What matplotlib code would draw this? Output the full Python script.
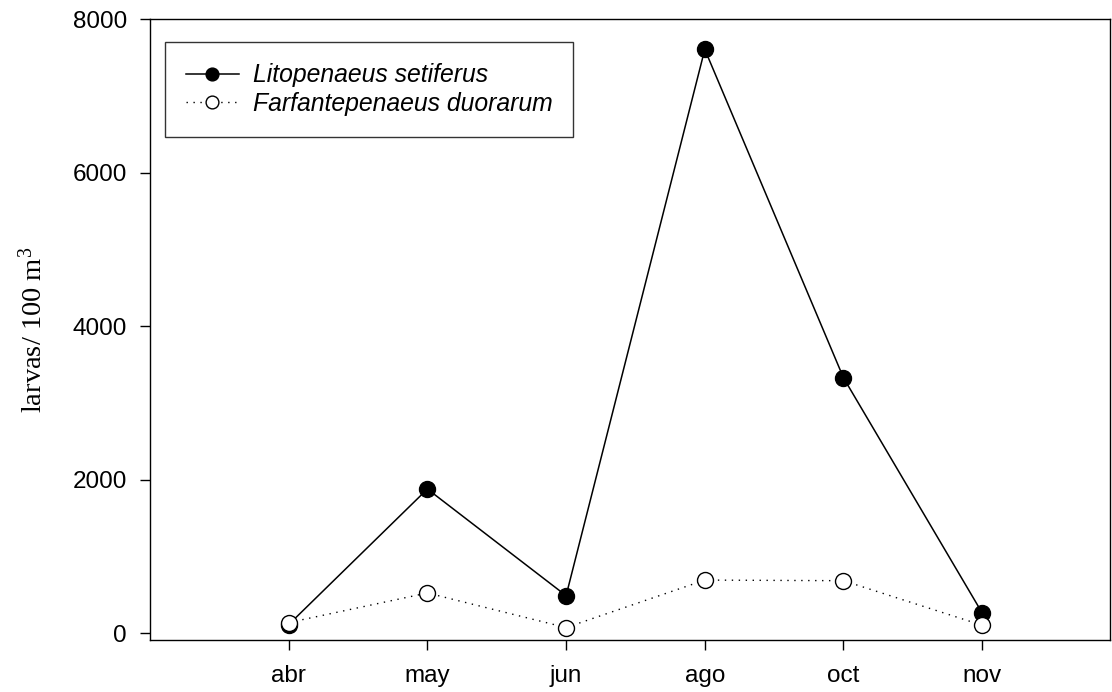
import matplotlib
matplotlib.use("Agg")
import matplotlib.pyplot as plt

# sampling months and larval densities (larvas / 100 m3)
months = ["abr", "may", "jun", "ago", "oct", "nov"]
setiferus = [110, 1877, 487, 7608, 3327, 262]
duorarum = [136, 522, 71, 690, 682, 101]

plt.rcParams["font.family"] = ["Liberation Sans", "DejaVu Sans"]
plt.rcParams["mathtext.fontset"] = "custom"
plt.rcParams["mathtext.rm"] = "Liberation Serif"
plt.rcParams["mathtext.it"] = "Liberation Serif"

fig = plt.figure(figsize=(11.12, 6.92), dpi=100)
ax = fig.add_axes([0.1349, 0.0747, 0.8631, 0.8985])

x = list(range(1, len(months) + 1))

ax.plot(x, setiferus, color="black", linestyle="-", linewidth=1.1,
        marker="o", markersize=11.5, markerfacecolor="black",
        markeredgecolor="black", label="Litopenaeus setiferus")
ax.plot(x, duorarum, color="black", linestyle=(0, (1, 4)), linewidth=1.0,
        marker="o", markersize=11.5, markerfacecolor="white",
        markeredgecolor="black", markeredgewidth=1.0,
        label="Farfantepenaeus duorarum")

ax.set_xlim(0, 6.92)
ax.set_ylim(-95, 8010)
ax.set_xticks(x)
ax.set_xticklabels(months)
ax.set_yticks([0, 2000, 4000, 6000, 8000])

for s in ax.spines.values():
    s.set_linewidth(1.0)
ax.tick_params(direction="out", length=7, width=1.0, labelsize=17.5)
ax.tick_params(axis="x", pad=10.5)
ax.tick_params(axis="y", pad=9.5)

ax.set_ylabel("larvas/ 100 m$^3$", family="Liberation Serif", fontsize=20.5,
              labelpad=18)

leg = ax.legend(loc="upper left", bbox_to_anchor=(0.0155, 0.962),
                prop={"family": "Liberation Sans", "style": "italic", "size": 17.8},
                frameon=True, fancybox=False, edgecolor="black",
                handlelength=2.15, handletextpad=0.55, borderpad=0.85,
                labelspacing=0.2, markerscale=0.8, borderaxespad=0)
leg.get_frame().set_linewidth(1.0)

fig.savefig("out.png", dpi=100)
